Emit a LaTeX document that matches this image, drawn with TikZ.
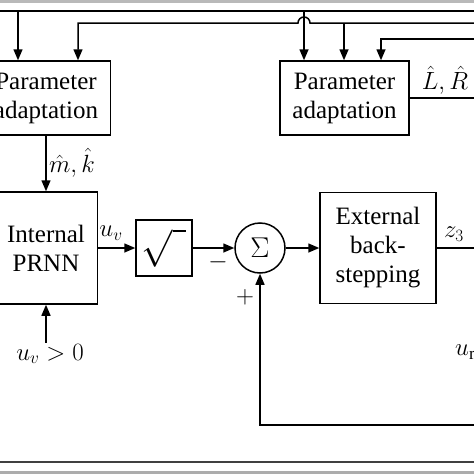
\documentclass[tikz,border=0pt]{standalone}
\usepackage{amsmath}
\usepackage{fontspec}
\setmainfont{Liberation Serif}
\usetikzlibrary{arrows.meta}
\usetikzlibrary{positioning}
\tikzstyle{block} = [draw, rectangle, inner sep=0pt, align=center, line width=1.5pt]
\tikzstyle{sum} = [draw, circle, inner sep=0pt, minimum size=50pt, line width=1.5pt]
\tikzstyle{wire} = [line width=1.5pt]
\tikzstyle{arr} = [-{Triangle[length=11pt, width=9pt]}, line width=1.5pt]

\begin{document}
\begin{tikzpicture}[x=1pt, y=-1pt, font=\fontsize{25}{29}\selectfont]
                        \useasboundingbox (0,0) rectangle (474,474);
                        \clip (0,0) rectangle (474,474);
                        % frame
                        \fill[gray!55] (0,0) rectangle (474,2.5);
                        \draw[black!75, line width=2pt] (0,462) -- (474,462);
                        \fill[gray!65] (0,471) rectangle (474,474);

                        \node[block, minimum width=129pt, minimum height=74pt](PA1) at (46,98) {Parameter\\adaptation};
                        \node[block, minimum width=129pt, minimum height=74pt](PA2) at (344.5,98) {Parameter\\adaptation};
                        \node[block, minimum width=103pt, minimum height=112pt](PRNN) at (46,248) {Internal\\PRNN};
                        \node[block, minimum size=56pt](SQ) at (164,248) {\scalebox{1.5}{$\sqrt{\vphantom{A}\hspace{9pt}}$}};
                        \node[sum](SUM) at (260,248) {\scalebox{1.15}{$\Sigma$}};
                        \node[block, minimum width=116pt, minimum height=111pt](EXT) at (378,248) {External\\back-\\stepping};
                        \node[inner sep=1pt](UV0) at (50,354) {$u_v > 0$};

                        \coordinate (L1) at (0,11);
                        \coordinate (R1) at (474,11);
                        \coordinate (T1) at (18,11);
                        \coordinate (T3) at (304,11);
                        \coordinate (R2) at (474,23);
                        \coordinate (T2) at (78,23);
                        \coordinate (T4) at (344,23);
                        \coordinate (R3) at (474,39);
                        \coordinate (T5) at (381,39);
                        \coordinate (R4) at (474,98);
                        \coordinate (R5) at (474,248);
                        \coordinate (R6) at (474,425);

                        \draw[wire] (L1) -- (R1);
                        \draw[arr] (T1) -- (T1 |- PA1.north);
                        \draw[arr] (T3) -- (T3 |- PA2.north);
                        \draw[arr] (R2) -- (310,23) arc[start angle=0, end angle=-180, radius=6] -- (T2) -- (T2 |- PA1.north);
                        \draw[arr] (T4) -- (T4 |- PA2.north);
                        \draw[arr] (R3) -- (T5) -- (T5 |- PA2.north);
                        \draw[wire] (PA2.east) -- (R4);

                        \draw[arr] (PA1) -- (PRNN);
                        \draw[arr] (PRNN) -- (SQ);
                        \draw[arr] (SQ) -- (SUM);
                        \draw[arr] (SUM) -- (EXT);
                        \draw[wire] (EXT.east) -- (R5);
                        \draw[arr] (R6) -- (R6 -| SUM) -- (SUM.south);
                        \draw[arr] (UV0.north -| PRNN.south) -- (PRNN.south);

                        \node at (72,163) {$\hat{m},\hat{k}$};
                        \node at (111,233) {$u_v$};
                        \node at (218,262) {$-$};
                        \node at (245,297) {$+$};
                        \node at (445,80) {$\hat{L},\hat{R}$};
                        \node at (454,234) {$z_3$};
                        \node[anchor=west, inner sep=0pt] at (455,352) {$u_{\mathrm{r}}$};
                    \end{tikzpicture}
\end{document}
